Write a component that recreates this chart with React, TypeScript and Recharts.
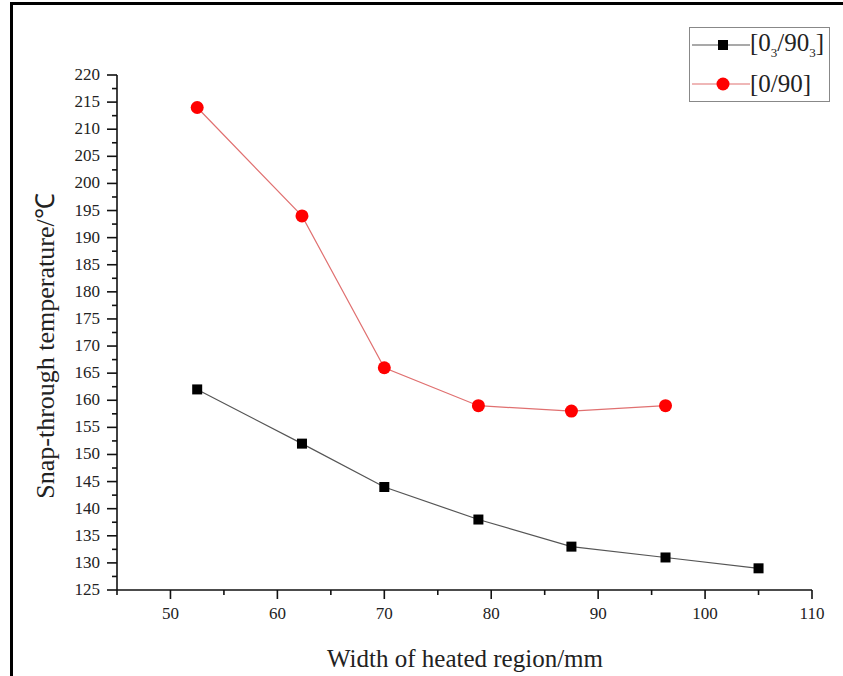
import React from "react";
import { Line, LineChart, XAxis, YAxis } from "recharts";

// Heated-region width (mm) for each test
const widths = [52.5, 62.3, 70, 78.8, 87.5, 96.3, 105];
// Snap-through temperature (°C) per layup
const tempsThick = [162, 152, 144, 138, 133, 131, 129]; // [0_3/90_3]
const tempsThin = [214, 194, 166, 159, 158, 159]; // [0/90]

const xTicks = [45, 50, 55, 60, 65, 70, 75, 80, 85, 90, 95, 100, 105, 110];
const yTicks: number[] = [];
for (let v = 125; v <= 220; v += 2.5) yTicks.push(v);

const data = widths.map((w, i) => ({
  width: w,
  thick: tempsThick[i],
  thin: i < tempsThin.length ? tempsThin[i] : null,
}));

const FONT = '"Liberation Serif", "Times New Roman", serif';

const XTick = (props: any) => {
  const { x, y, payload } = props;
  const major = payload.value % 10 === 0;
  return (
    <g>
      <line x1={x} x2={x} y1={y} y2={y + (major ? 9 : 5)} stroke="#111" strokeWidth={1.6} />
      {major && (
        <text x={x} y={y + 29} textAnchor="middle" style={{ fontFamily: FONT, fontSize: 17 }} fill="#222">
          {payload.value}
        </text>
      )}
    </g>
  );
};

const YTick = (props: any) => {
  const { x, y, payload } = props;
  const major = payload.value % 5 === 0;
  return (
    <g>
      <line x1={x} x2={x - (major ? 10 : 5)} y1={y} y2={y} stroke="#111" strokeWidth={1.6} />
      {major && (
        <text x={x - 17} y={y + 5} textAnchor="end" style={{ fontFamily: FONT, fontSize: 17 }} fill="#222">
          {payload.value}
        </text>
      )}
    </g>
  );
};

const SquareDot = (props: any) => {
  const { cx, cy, index } = props;
  if (cx == null || cy == null) return <g key={`sq-${index}`} />;
  return <rect key={`sq-${index}`} x={cx - 5} y={cy - 5} width={10} height={10} fill="#000" />;
};

const Legend = () => (
  <div
    style={{
      position: "absolute",
      left: 689,
      top: 27,
      width: 139,
      height: 73,
      border: "1.5px solid #888",
      background: "#fff",
      fontFamily: FONT,
      fontSize: 25,
      color: "#222",
    }}
  >
    <div style={{ position: "absolute", left: 2, top: 1, display: "flex", alignItems: "center", height: 32 }}>
      <svg width={58} height={20}>
        <line x1={0} x2={58} y1={10} y2={10} stroke="#555" strokeWidth={1.2} />
        <rect x={26} y={5} width={10} height={10} fill="#000" />
      </svg>
      <span>
        [0<sub style={{ fontSize: 13 }}>3</sub>/90<sub style={{ fontSize: 13 }}>3</sub>]
      </span>
    </div>
    <div style={{ position: "absolute", left: 2, top: 40, display: "flex", alignItems: "center", height: 32 }}>
      <svg width={58} height={20}>
        <line x1={0} x2={58} y1={10} y2={10} stroke="#e07070" strokeWidth={1.2} />
        <circle cx={31} cy={10} r={6.5} fill="#f00" />
      </svg>
      <span>[0/90]</span>
    </div>
  </div>
);

export default function App() {
  return (
    <div style={{ position: "absolute", left: 0, top: 0, width: 843, height: 676, background: "#fff", overflow: "hidden" }}>
      {/* frame edges */}
      <div
        style={{
          position: "absolute",
          left: 10,
          top: 2,
          right: -5,
          bottom: -5,
          borderLeft: "3px solid #000",
          borderTop: "3px solid #000",
        }}
      />
      <div style={{ position: "absolute", left: 0, top: 0 }}>
        <LineChart width={843} height={676} data={data} margin={{ top: 75, right: 31, bottom: 0, left: 0 }}>
          <XAxis
            dataKey="width"
            type="number"
            domain={[45, 110]}
            ticks={xTicks}
            interval={0}
            height={86}
            tickSize={0}
            tickMargin={0}
            tickLine={false}
            axisLine={{ stroke: "#111", strokeWidth: 1.6 }}
            tick={<XTick />}
          />
          <YAxis
            type="number"
            domain={[125, 220]}
            ticks={yTicks}
            interval={0}
            width={117}
            tickSize={0}
            tickMargin={0}
            tickLine={false}
            axisLine={{ stroke: "#111", strokeWidth: 1.6 }}
            tick={<YTick />}
          />
          <Line
            dataKey="thick"
            stroke="#555"
            strokeWidth={1.2}
            dot={SquareDot}
            activeDot={false}
            isAnimationActive={false}
          />
          <Line
            dataKey="thin"
            stroke="#e07070"
            strokeWidth={1.2}
            dot={{ r: 6.5, fill: "#f00", stroke: "none" }}
            activeDot={false}
            connectNulls={false}
            isAnimationActive={false}
          />
        </LineChart>
      </div>
      <Legend />
      <div
        style={{
          position: "absolute",
          left: 44,
          top: 346,
          transform: "translate(-50%, -50%) rotate(-90deg)",
          whiteSpace: "nowrap",
          fontFamily: FONT,
          fontSize: 26,
          color: "#222",
        }}
      >
        Snap-through temperature/℃
      </div>
      <div
        style={{
          position: "absolute",
          left: 465,
          top: 659,
          transform: "translate(-50%, -50%)",
          whiteSpace: "nowrap",
          fontFamily: FONT,
          fontSize: 25,
          color: "#222",
        }}
      >
        Width of heated region/mm
      </div>
    </div>
  );
}
